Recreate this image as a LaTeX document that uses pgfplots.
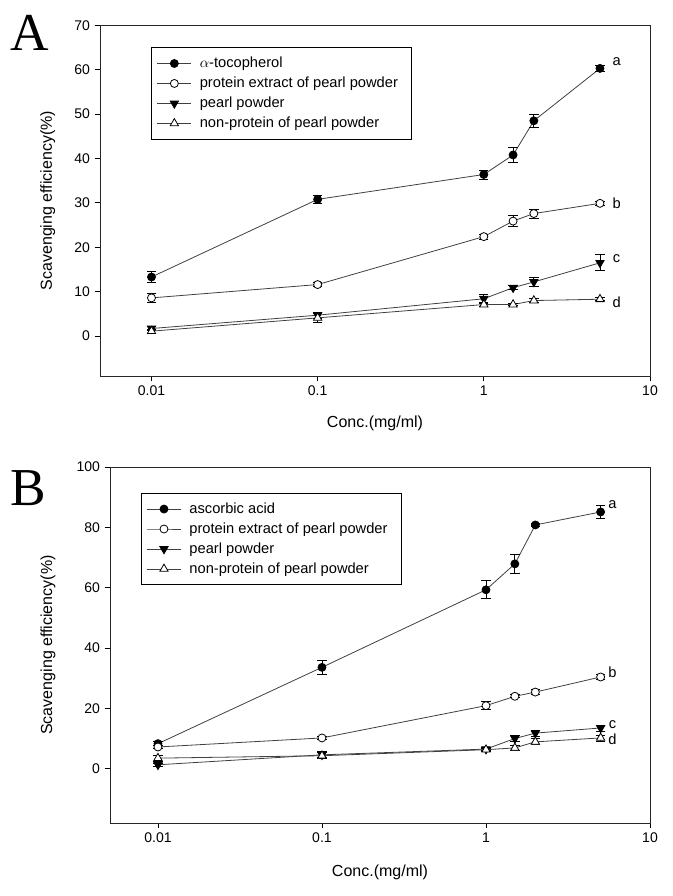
\documentclass[border=0pt]{standalone}
\usepackage{pgfplots}
\pgfplotsset{compat=1.18}
\usepackage{fontspec}
\setmainfont{Liberation Sans}
\newfontfamily\panelfont{Liberation Serif}
\pgfplotsset{
  every axis/.append style={
    xmode=log, scale only axis, xmin=0.0049, xmax=10,
    xtick={0.01,0.1,1,10}, xticklabels={0.01,0.1,1,10},
    xminorticks=false, yminorticks=false,
    tick align=outside, xtick pos=bottom, ytick pos=left,
    major tick length=4pt,
    axis line style={line width=0.7pt, black!85},
    every tick/.style={black, line width=0.6pt},
    /pgf/number format/assume math mode=true,
    tick label style={font=\fontsize{10.5}{12}\selectfont},
    label style={font=\fontsize{12}{14}\selectfont},
    xlabel={Conc.(mg/ml)}, ylabel={Scavenging efficiency(\%)},
    legend cell align=left,
    legend style={draw=black, line width=0.6pt, font=\fontsize{11}{13.5}\selectfont, inner xsep=4pt, inner ysep=5pt, row sep=1.5pt, nodes={inner xsep=6pt}},
    legend image code/.code={\draw[mark repeat=2,mark phase=2] plot coordinates {(0cm,0cm) (0.45cm,0cm) (0.9cm,0cm)};},
  },
  pl/.style={black!75, line width=0.6pt, mark size=3pt,
    error bars/y dir=both, error bars/y explicit,
    error bars/error bar style={black, line width=0.6pt},
    error bars/error mark options={black, rotate=90, mark size=3.5pt, line width=0.6pt}},
  fc/.style={pl, mark=*, mark options={fill=black, draw=black}},
  oc/.style={pl, mark=*, mark options={fill=white, draw=black}},
  dt/.style={pl, mark=triangle*, mark options={fill=black, draw=black, rotate=180, mark size=3.6pt}},
  ut/.style={pl, mark=triangle*, mark options={fill=white, draw=black, mark size=3.6pt}},
}
\begin{document}
\begin{tikzpicture}
\useasboundingbox (0,0) rectangle (504pt,-672pt);
\node[font=\panelfont\fontsize{40}{40}\selectfont] at (22pt,-25pt) {A};
\node[font=\panelfont\fontsize{40}{40}\selectfont] at (21pt,-366pt) {B};
\begin{axis}[at={(75pt,-282pt)}, anchor=south west,
  width=412.5pt, height=263pt, ymin=-9, ymax=70, ytick={0,10,...,70},
  ylabel style={at={(axis description cs:-0.095,0.5)}, anchor=center},
  xlabel style={at={(axis description cs:0.5,-0.134)}, anchor=center},
  legend style={at={(0.093,0.937)}, anchor=north west}]
\addplot[fc] table[y error=e] {
x y e
0.01 13.3 1.3
0.1 30.8 1.0
1 36.4 1.0
1.5 40.8 1.7
2 48.5 1.5
5 60.3 0.7
};
\addlegendentry{$\alpha$-tocopherol}
\addplot[oc] table[y error=e] {
x y e
0.01 8.6 1.0
0.1 11.6 0.5
1 22.4 0.6
1.5 25.9 1.3
2 27.6 1.0
5 29.9 0.5
};
\addlegendentry{protein extract of pearl powder}
\addplot[dt] table[y error=e] {
x y e
0.01 1.7 0.5
0.1 4.7 0.7
1 8.4 1.0
1.5 10.9 0.5
2 12.2 1.0
5 16.5 1.8
};
\addlegendentry{pearl powder}
\addplot[ut] table[y error=e] {
x y e
0.01 1.1 0.5
0.1 4.1 1.0
1 7.1 0.5
1.5 7.1 0.3
2 8.0 0.5
5 8.3 0.3
};
\addlegendentry{non-protein of pearl powder}
\node[font=\fontsize{11}{12}\selectfont] at (axis cs:6.3,61.9) {a};
\node[font=\fontsize{11}{12}\selectfont] at (axis cs:6.3,30) {b};
\node[font=\fontsize{11}{12}\selectfont] at (axis cs:6.3,17.4) {c};
\node[font=\fontsize{11}{12}\selectfont] at (axis cs:6.3,7.7) {d};
\end{axis}
\begin{axis}[at={(82.5pt,-617.25pt)}, anchor=south west,
  width=405pt, height=267pt, xmin=0.0051, ymin=-18, ymax=100, ytick={0,20,...,100},
  ylabel style={at={(axis description cs:-0.115,0.5)}, anchor=center},
  xlabel style={at={(axis description cs:0.5,-0.138)}, anchor=center},
  legend style={at={(0.057,0.927)}, anchor=north west}]
\addplot[fc] table[y error=e] {
x y e
0.01 8.3 0.7
0.1 33.6 2.3
1 59.3 3.0
1.5 67.9 3.0
2 80.8 0.5
5 85.1 2.3
};
\addlegendentry{ascorbic acid}
\addplot[oc] table[y error=e] {
x y e
0.01 7.2 0.5
0.1 10.2 0.5
1 20.9 1.3
1.5 24.0 0.5
2 25.4 0.8
5 30.4 0.8
};
\addlegendentry{protein extract of pearl powder}
\addplot[dt] table[y error=e] {
x y e
0.01 1.3 0.5
0.1 4.6 1.0
1 6.5 0.5
1.5 10.0 1.0
2 11.8 1.0
5 13.5 1.0
};
\addlegendentry{pearl powder}
\addplot[ut] table[y error=e] {
x y e
0.01 3.5 1.0
0.1 4.3 1.0
1 6.3 0.5
1.5 6.9 0.7
2 8.9 1.0
5 10.2 1.0
};
\addlegendentry{non-protein of pearl powder}
\node[font=\fontsize{11}{12}\selectfont] at (axis cs:5.9,87.4) {a};
\node[font=\fontsize{11}{12}\selectfont] at (axis cs:5.9,32.1) {b};
\node[font=\fontsize{11}{12}\selectfont] at (axis cs:5.9,14.6) {c};
\node[font=\fontsize{11}{12}\selectfont] at (axis cs:5.9,9.8) {d};
\end{axis}
\end{tikzpicture}
\end{document}
